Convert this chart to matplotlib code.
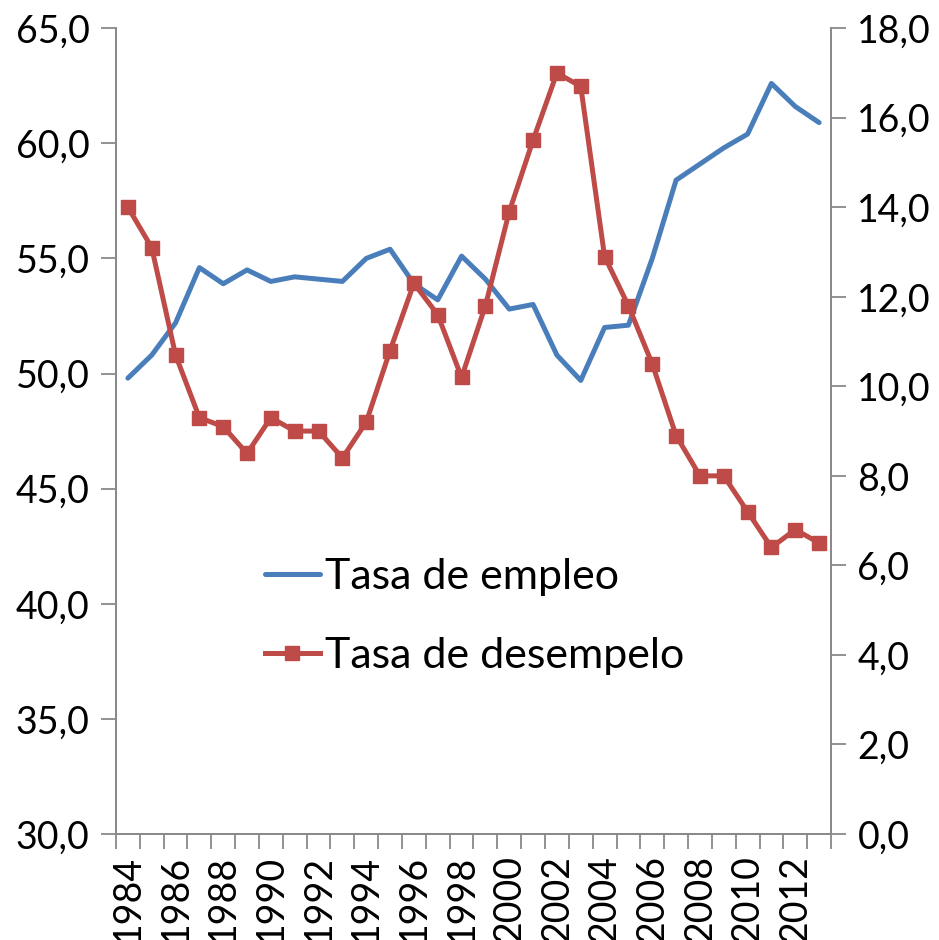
import numpy as np
import matplotlib.pyplot as plt
from matplotlib.ticker import FuncFormatter, FixedLocator

plt.rcParams["font.family"] = ["Lato", "DejaVu Sans"]

years = list(range(1984, 2014))
empleo = [49.8, 50.8, 52.2, 54.6, 53.9, 54.5, 54.0, 54.2, 54.1, 54.0,
          55.0, 55.4, 53.9, 53.2, 55.1, 54.1, 52.8, 53.0, 50.8, 49.7,
          52.0, 52.1, 55.0, 58.4, 59.1, 59.8, 60.4, 62.6, 61.6, 60.9]
desempleo = [14.0, 13.1, 10.7, 9.3, 9.1, 8.5, 9.3, 9.0, 9.0, 8.4,
             9.2, 10.8, 12.3, 11.6, 10.2, 11.8, 13.9, 15.5, 17.0, 16.7,
             12.9, 11.8, 10.5, 8.9, 8.0, 8.0, 7.2, 6.4, 6.8, 6.5]
left_ticks = [30, 35, 40, 45, 50, 55, 60, 65]
right_ticks = [0, 2, 4, 6, 8, 10, 12, 14, 16, 18]

BLUE = "#4A7EBB"
RED = "#BE4B48"
GRAY = "#898989"
FS = 27

comma = FuncFormatter(lambda v, p: f"{v:.1f}".replace(".", ","))

fig = plt.figure(figsize=(9.39, 9.40), dpi=100)
ax = fig.add_axes([0.1235, 0.1128, 0.7615, 0.8572])
ax2 = ax.twinx()

x = np.arange(len(years))
l1, = ax.plot(x, empleo, color=BLUE, lw=3.6, solid_capstyle="round",
              solid_joinstyle="round", label="Tasa de empleo")
l2, = ax2.plot(x, desempleo, color=RED, lw=3.6, marker="s", ms=10,
               solid_joinstyle="round", label="Tasa de desempelo")

ax.set_xlim(-0.5, len(years) - 0.5)
ax.set_ylim(30, 65)
ax2.set_ylim(0, 18)
ax.yaxis.set_major_locator(FixedLocator(left_ticks))
ax2.yaxis.set_major_locator(FixedLocator(right_ticks))
ax.yaxis.set_major_formatter(comma)
ax2.yaxis.set_major_formatter(comma)

# year labels every other category, tick marks between categories
ax.set_xticks(x[::2])
ax.set_xticklabels([str(y) for y in years[::2]], rotation=90)
ax.set_xticks(np.arange(-0.5, len(years)), minor=True)
ax.tick_params(axis="x", which="major", length=0, pad=15, labelsize=FS)
ax.tick_params(axis="x", which="minor", length=11, width=1.3, color=GRAY)
ax.tick_params(axis="y", length=11, width=1.3, color=GRAY, labelsize=FS, pad=8)
ax2.tick_params(axis="y", length=11, width=1.3, color=GRAY, labelsize=FS, pad=8)

for a in (ax, ax2):
    a.spines["top"].set_visible(False)
    for s in ("left", "right", "bottom"):
        a.spines[s].set_color(GRAY)
        a.spines[s].set_linewidth(1.3)

fig.legend(handles=[l1, l2], loc="center left", bbox_to_anchor=(0.282, 0.344),
           frameon=False, fontsize=31, handlelength=1.28, handletextpad=0.12,
           labelspacing=0.95, borderpad=0, borderaxespad=0)

fig.savefig("out.png", dpi=100)
